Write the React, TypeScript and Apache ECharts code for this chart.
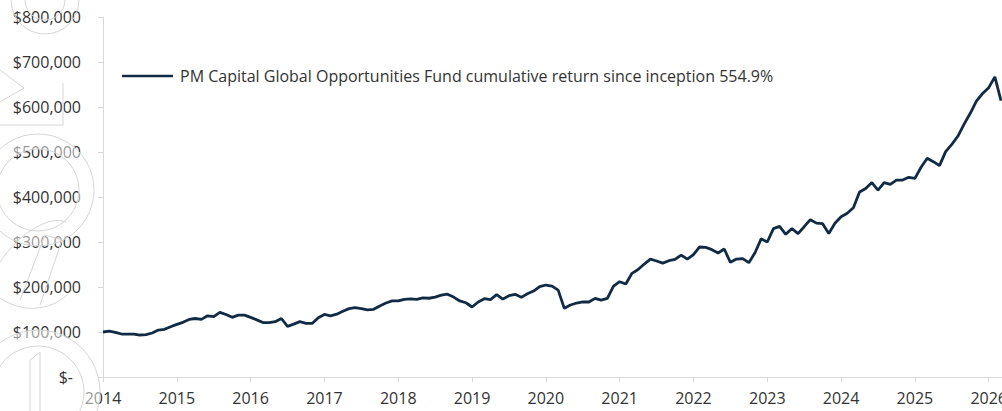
import React, { useEffect, useRef } from "react";
import * as echarts from "echarts";

// Monthly growth of $100,000 starting January 2014
const startYear = 2014;
const seriesName =
  "PM Capital Global Opportunities Fund cumulative return since inception 554.9%";
const values: number[] = [
  100000, 102000, 99300, 95500, 95500, 95500, 93300, 94000, 97800, 104400, 106000, 111800,
  117000, 121500, 128000, 130000, 128000, 136000, 134000, 143700, 139000, 132600, 137600, 137600,
  132600, 127000, 121000, 121000, 123000, 130000, 112600, 117600, 123000, 119000, 119000, 131800,
  139000, 136000, 139600, 146000, 152000, 154000, 152000, 149000, 150500, 158000, 164400, 169000,
  169000, 172700, 173500, 172700, 176000, 175000, 177600, 182000, 184000, 177600, 169000, 165000,
  155600, 166700, 174000, 172000, 183000, 173000, 180700, 183700, 177000, 185000, 191000, 200700,
  204400, 202000, 193000, 152600, 160000, 164400, 166700, 166700, 174800, 171000, 174800, 202000,
  211800, 206700, 230400, 239000, 251000, 262000, 257800, 253000, 258500, 261500, 271000, 262000,
  271900, 288900, 288000, 283000, 275600, 284400, 254800, 262000, 263000, 254000, 276000, 307000,
  300000, 329600, 334800, 317000, 330000, 318500, 334000, 349600, 342000, 340700, 319000, 341500,
  356000, 364000, 376000, 411000, 419000, 432000, 415500, 431800, 428000, 437700, 437700, 443700,
  441500, 466000, 486000, 478500, 469600, 500700, 517000, 535500, 562000, 586000, 613000, 630000,
  643000, 667000, 614000,
];
const yMin = 0;
const yMax = 800000;
const yStep = 100000;
const xMin = 2014;
const xMax = 2026.18;

const FONT = "'Open Sans', sans-serif";
const TEXT = "#333333";
const AXIS = "#d9d9d9";
const LINE = "#112b45";
const WM_STROKE = "#d6d6d6";
const WM_FILL = "rgba(255,255,255,0.5)";

export default function App() {
  const ref = useRef<HTMLDivElement>(null);
  useEffect(() => {
    document.documentElement.style.overflow = "hidden";
    document.body.style.overflow = "hidden";
    document.body.style.margin = "0";
    const chart = echarts.init(ref.current!, null, { renderer: "svg", width: 1002, height: 411 });
    const data = values.map((v, i) => [startYear + i / 12, v]);
    chart.setOption({
      animation: false,
      backgroundColor: "#ffffff",
      grid: { left: 103, right: 0, top: 17, bottom: 34, outerBoundsMode: "none", containLabel: false },
      legend: {
        left: 117,
        top: 63,
        icon: "rect",
        itemWidth: 51,
        itemHeight: 2.5,
        textStyle: { fontFamily: FONT, fontSize: 16, color: TEXT, padding: [0, 0, 0, 2] },
        data: [{ name: seriesName, icon: "rect" }],
      },
      xAxis: {
        type: "value",
        min: xMin,
        max: xMax,
        interval: 1,
        axisLine: { show: true, onZero: false, lineStyle: { color: AXIS, width: 1 } },
        axisTick: { show: true, length: 5, lineStyle: { color: AXIS } },
        splitLine: { show: false },
        axisLabel: {
          fontFamily: FONT,
          fontSize: 16,
          color: TEXT,
          margin: 13,
          showMaxLabel: false,
          hideOverlap: false,
          formatter: (v: number) => (Math.abs(v - Math.round(v)) < 1e-6 ? String(Math.round(v)) : ""),
        },
      },
      yAxis: {
        type: "value",
        min: yMin,
        max: yMax,
        interval: yStep,
        axisLine: { show: true, onZero: false, lineStyle: { color: AXIS, width: 1 } },
        axisTick: { show: true, length: 5, lineStyle: { color: AXIS } },
        splitLine: { show: false },
        axisLabel: {
          fontFamily: FONT,
          fontSize: 16,
          color: TEXT,
          margin: 22,
          formatter: (v: number) =>
            v === 0 ? "{z|$-}" : "$" + v.toLocaleString("en-US"),
          rich: {
            z: { fontFamily: FONT, fontSize: 16, color: TEXT, padding: [0, 8, 0, 0] },
          },
        },
      },
      series: [
        {
          type: "line",
          name: seriesName,
          data,
          symbol: "none",
          showSymbol: false,
          lineStyle: { color: LINE, width: 2.8 },
          itemStyle: { color: LINE },
          z: 3,
        },
      ],
      graphic: [
        { type: "arc", z: 50, shape: { cx: 45, cy: 0, r: 20, startAngle: 0, endAngle: Math.PI }, style: { stroke: WM_STROKE, fill: "none", lineWidth: 1 } },
        { type: "arc", z: 50, shape: { cx: 45, cy: 0, r: 34, startAngle: 0, endAngle: Math.PI }, style: { stroke: WM_STROKE, fill: "none", lineWidth: 1 } },
        { type: "polyline", z: 50, shape: { points: [[0, 125], [63, 125], [63, 83]] }, style: { stroke: WM_STROKE, fill: "none", lineWidth: 1 } },
        { type: "polyline", z: 50, shape: { points: [[0, 102], [24, 88], [0, 70]] }, style: { stroke: WM_STROKE, fill: "none", lineWidth: 1 } },
        { type: "ring", z: 50, shape: { cx: 38, cy: 190, r: 56, r0: 41 }, style: { stroke: WM_STROKE, fill: WM_FILL, lineWidth: 1 } },
        { type: "bezierCurve", z: 50, shape: { x1: 0, y1: 262, x2: 66, y2: 222, cpx1: 20, cpy1: 232, cpx2: 50, cpy2: 215 }, style: { stroke: WM_STROKE, fill: "none", lineWidth: 1 } },
        { type: "polyline", z: 50, shape: { points: [[20, 300], [45, 235], [62, 240], [40, 305]] }, style: { stroke: WM_STROKE, fill: "none", lineWidth: 1 } },
        { type: "bezierCurve", z: 50, shape: { x1: 0, y1: 298, x2: 72, y2: 290, cpx1: 25, cpy1: 315, cpx2: 55, cpy2: 310 }, style: { stroke: WM_STROKE, fill: "none", lineWidth: 1 } },
        { type: "ring", z: 50, shape: { cx: 38, cy: 392, r: 62, r0: 46 }, style: { stroke: WM_STROKE, fill: WM_FILL, lineWidth: 1 } },
        { type: "polyline", z: 50, shape: { points: [[30, 411], [30, 360], [40, 352], [40, 411]] }, style: { stroke: WM_STROKE, fill: "none", lineWidth: 1 } },
      ],
    });
    return () => chart.dispose();
  }, []);
  return (
    <div
      ref={ref}
      style={{ position: "fixed", left: 0, top: 0, width: 1002, height: 411, overflow: "hidden" }}
    />
  );
}
